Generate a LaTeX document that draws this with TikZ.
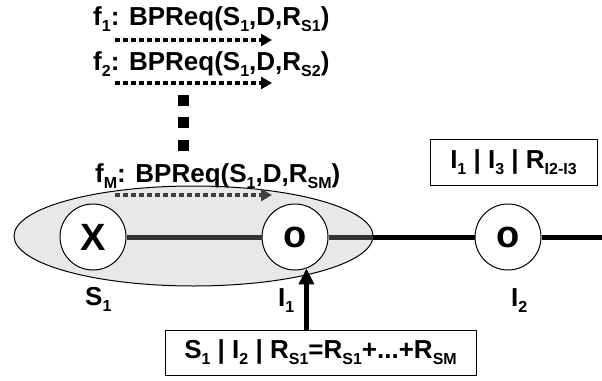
\documentclass[tikz,border=0pt]{standalone}
\usepackage{fontspec}
\setmainfont{Liberation Sans}
\usetikzlibrary{arrows.meta,calc}
\newcommand{\lowsub}[1]{\raisebox{-6pt}{\fontsize{16}{16}\selectfont #1}}
\tikzset{
  lbl/.style={inner sep=0pt, font=\fontsize{26}{30}\selectfont\bfseries},
  boxed/.style={draw, line width=1pt, inner sep=0pt, font=\fontsize{26}{30}\selectfont\bfseries},
  router/.style={circle, draw, line width=1pt, fill=white, minimum size=66pt, inner sep=0pt, font=\fontsize{38}{40}\selectfont\bfseries},
  dotarrow/.style={line width=4pt, dash pattern=on 5pt off 3pt, -{Triangle[length=11pt,width=12pt]}},
  mainline/.style={line width=5pt},
  sq/.style={fill=black, minimum size=11pt, inner sep=0pt}
}
\begin{document}
\begin{tikzpicture}[x=1pt,y=-1pt]
\useasboundingbox (0,0) rectangle (602,380);
% domain ellipse
\draw[line width=1pt, fill=black!9] (193.5,236) ellipse [x radius=179.5pt, y radius=50pt];
\coordinate (ellend) at (373,237);
\coordinate (rightend) at (602,237);
% routers
\node[router] (X) at (93,237) {X};
\node[router] (I1) at (295,237) {o};
\node[router] (I2) at (508,237) {o};
% links
\draw[mainline, black!80] (X) -- (I1);
\draw[mainline, black!80] (I1) -- (ellend);
\draw[mainline] (ellend) -- (I2);
\draw[mainline] (I2) -- (rightend);
% request labels
\node[lbl, anchor=base west] (f1) at (93,25) {f\lowsub{1}: BPReq(S\lowsub{1},D,R\lowsub{S1})};
\node[lbl, anchor=base west] (f2) at (93,70) {f\lowsub{2}: BPReq(S\lowsub{1},D,R\lowsub{S2})};
\node[lbl, anchor=base west] (fM) at (95,182) {f\lowsub{M}: BPReq(S\lowsub{1},D,R\lowsub{SM})};
\coordinate (a1s) at (115,40); \coordinate (a1e) at (272,40);
\coordinate (a2s) at (115,83); \coordinate (a2e) at (272,83);
\coordinate (aMs) at (115,195); \coordinate (aMe) at (272,195);
\draw[dotarrow] (a1s) -- (a1e);
\draw[dotarrow] (a2s) -- (a2e);
\draw[dotarrow, black!75] (aMs) -- (aMe);
% vertical dots
\node[sq] (d1) at (183.5,100) {};
\node[sq] (d2) at (183.5,122.5) {};
\node[sq] (d3) at (183.5,145) {};
% node labels
\node[lbl, anchor=base west] (lS1) at (85,305) {S\lowsub{1}};
\node[lbl, anchor=base west] (lI1) at (278,306) {I\lowsub{1}};
\node[lbl, anchor=base west] (lI2) at (511,306) {I\lowsub{2}};
% state boxes
\node[boxed, minimum width=311pt, minimum height=45pt] (bot) at (320.5,352.5) {S\lowsub{1} | I\lowsub{2} | R\lowsub{S1}=R\lowsub{S1}+...+R\lowsub{SM}};
\node[boxed, minimum width=167pt, minimum height=46pt] (tr) at (513.5,162) {I\lowsub{1} | I\lowsub{3} | R\lowsub{I2-I3}};
% reservation arrow
\draw[line width=5pt, -{Triangle[length=16pt,width=15pt]}] (bot.north -| I1.-70) -- (I1.-70);
\end{tikzpicture}
\end{document}
